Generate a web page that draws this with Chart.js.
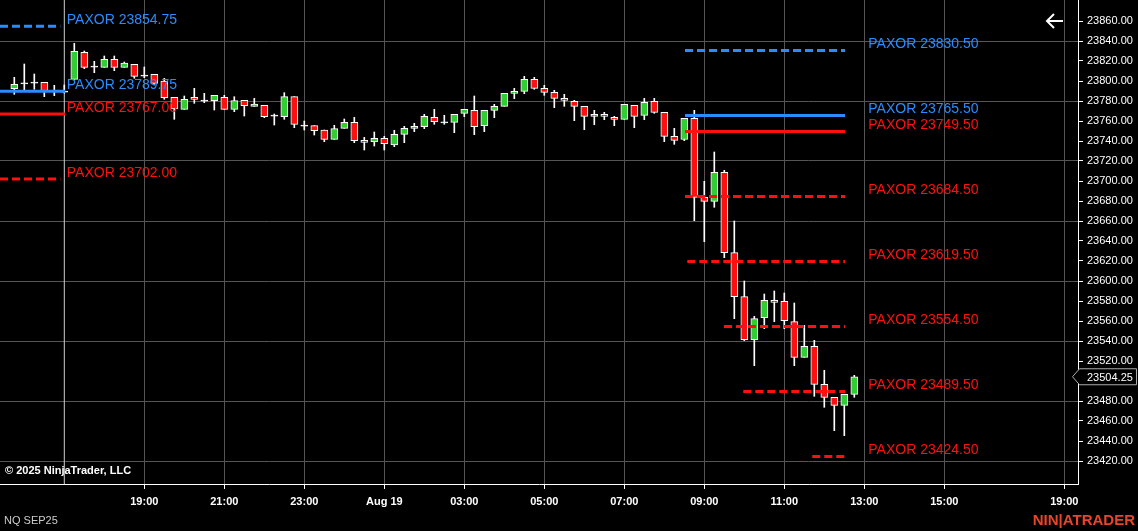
<!DOCTYPE html>
<html><head><meta charset="utf-8">
<script src="https://cdn.jsdelivr.net/npm/chart.js@4.4.0/dist/chart.umd.min.js"></script>
<style>html,body{margin:0;padding:0;background:#000;overflow:hidden}</style>
</head><body>
<canvas id="c" width="1138" height="531"></canvas>
<script>
// 15-minute bars, index k = 1..85
const barIndex = Array.from({length:85},(_,i)=>i+1);
const opens  = [23792.3,23797.7,23798.3,23798.7,23790,23789.3,23801.7,23828.7,23814.3,23813.7,23821.7,23813.7,23816.7,23805.3,23806.7,23800,23783.7,23771.7,23783.7,23780.3,23780.3,23783.7,23771.7,23780.7,23774.7,23775.7,23765.3,23764.3,23784.3,23755.3,23755.3,23751,23741.7,23752.7,23758.7,23740.7,23739.3,23742.7,23736,23746.7,23752.7,23754.3,23763.7,23758.7,23758.7,23767.7,23770.7,23755.3,23770.7,23774.7,23787.7,23789.7,23801.7,23792.7,23788.7,23782.7,23779.7,23774.7,23764.7,23766.7,23763.7,23761.7,23775.7,23765.7,23779.7,23768.7,23744.7,23741.5,23762.7,23683.7,23679.7,23708.7,23628.3,23584.3,23541.3,23563.3,23580.7,23579.7,23559.3,23523.7,23534.7,23496.7,23483.7,23475.7,23486.7];
const highs  = [23803.7,23817,23807,23798.7,23795.7,23796,23837.7,23830,23819.7,23825,23825,23819,23816.7,23814,23806.7,23802.7,23783.7,23785,23792.7,23787.7,23785.7,23785.7,23784.3,23780.7,23782.7,23775.7,23767,23788.3,23784.3,23760,23755.3,23751,23755.7,23762,23763.7,23743.7,23749,23744.7,23750.7,23754.7,23757.7,23766.7,23771.7,23765.7,23766.7,23771.7,23785,23770.7,23776.7,23787.7,23792.7,23804.7,23803.7,23795.7,23790.7,23786.7,23780.7,23774.7,23770.7,23768.7,23764.7,23776.7,23775.7,23782.7,23782.7,23768.7,23752.7,23762.7,23770.7,23699.7,23729,23710.7,23660,23600,23564.7,23587,23590,23588,23578,23555.7,23540.7,23510.7,23483.7,23486.7,23505.7];
const lows   = [23786.7,23789.3,23791.7,23784.3,23785.3,23788,23801.7,23812.3,23808.3,23813.7,23810.3,23813.7,23802.7,23803.3,23796,23781.7,23761.7,23771.7,23777.7,23778.3,23771,23771.7,23769.3,23765,23774.7,23763.3,23756,23761.7,23753.3,23751,23746,23739.3,23741.7,23752.7,23738.3,23731,23735,23731,23734.3,23738.3,23749.3,23752.3,23756.7,23756.7,23748.3,23764.3,23746.3,23749.3,23763.3,23774.7,23782.3,23787.3,23791.7,23785.7,23773.3,23774.7,23760.3,23751.3,23756.3,23761.3,23755.3,23761.7,23753.3,23761.3,23767.7,23739.3,23736.7,23740.3,23660.3,23639.3,23673.7,23623.3,23562.3,23540.3,23515.3,23552.3,23559.3,23552.3,23515.3,23523.7,23484.7,23473.7,23450.3,23445.3,23483.7];
const closes = [23796.7,23797.7,23798.3,23790,23790,23789.3,23829.7,23813.7,23814.3,23821.7,23813.7,23818,23804.7,23805.3,23797.7,23783.3,23772,23781.7,23781.7,23780.3,23785.7,23771.7,23780.3,23775.3,23777,23764.3,23765.3,23784.3,23756.7,23755.3,23750.3,23741.7,23752.3,23758.7,23740.3,23738.7,23742.7,23737.3,23746.7,23752.7,23754.7,23764.7,23759.3,23758.7,23766.7,23771.7,23754.3,23770.7,23774.7,23787.7,23789.7,23801.7,23792.7,23788.7,23782.7,23780.7,23774.7,23764.7,23766.7,23764.7,23761.7,23776.7,23764.7,23778.7,23768.7,23744.7,23740.7,23762.7,23683.7,23679.7,23708.7,23628.3,23584.3,23541.3,23562.3,23580.7,23578.7,23560.3,23523.7,23534.7,23496.7,23483.7,23475.7,23486.7,23504.25];
const lastPrice = 23504.25;
// PAXOR levels
const levelPrices = [23854.75,23789.75,23767.00,23702.00,23830.50,23765.50,23749.50,23684.50,23619.50,23554.50,23489.50,23424.50];
const levelStart  = [-0.43,-0.43,-0.43,-0.43,68.07,68.07,68.07,68.07,68.3,71.97,73.9,80.8];
const levelEnd    = [5.6,6.07,6.07,5.6,84.07,84.07,84.07,84.07,84.07,84.07,84.07,84.07];
const levelBlue   = [true,true,false,false,true,true,false,false,false,false,false,false];
const levelDashed = [true,false,false,true,true,false,false,true,true,true,true,true];
const levelLabelAt= [6.25,6.25,6.25,6.25,86.4,86.4,86.4,86.4,86.4,86.4,86.4,86.4];
const timeTickPos = [14,22,30,38,46,54,62,70,78,86,94,106];
const timeTickLab = ['19:00','21:00','23:00','Aug 19','03:00','05:00','07:00','09:00','11:00','13:00','15:00','19:00'];
const sessionBreak = 6;

const BLUE='#2a8cff', RED='#ff1010', GREEN='#32cd32';
const bodies = barIndex.map((k,i)=>{
  const o=opens[i], c=closes[i];
  return o===c ? {x:k,y:[o-0.5,o+0.5]} : {x:k,y:[Math.min(o,c),Math.max(o,c)]};
});
const bodyColors = barIndex.map((k,i)=> opens[i]===closes[i] ? '#fff' : (closes[i]>opens[i]?GREEN:RED));
const wicks = barIndex.map((k,i)=>({x:k,y:[lows[i],highs[i]]}));

const datasets = [
  {type:'bar',data:wicks,backgroundColor:'#fff',barThickness:1,grouped:false,order:3,borderWidth:0},
  {type:'bar',data:bodies,backgroundColor:bodyColors,borderColor:'#fff',borderWidth:1,borderSkipped:false,barThickness:7,grouped:false,order:2},
  {type:'line',data:[{x:sessionBreak,y:23397},{x:sessionBreak,y:23881}],borderColor:'#cfcfcf',borderWidth:1,pointRadius:0,order:4}
];
levelPrices.forEach((p,i)=>{
  datasets.push({type:'line',data:[{x:levelStart[i],y:p},{x:levelEnd[i],y:p}],
    borderColor:levelBlue[i]?BLUE:RED,borderWidth:3,borderDash:levelDashed[i]?[8,4]:[],
    pointRadius:0,order:0});
});

const overlay = {
  id:'overlay',
  afterDraw(chart){
    const ctx=chart.ctx, xs=chart.scales.x, ys=chart.scales.y;
    ctx.save();
    ctx.font='14px "Liberation Sans", Arial, sans-serif';
    ctx.textBaseline='middle';ctx.textAlign='left';
    levelPrices.forEach((p,i)=>{
      ctx.fillStyle=levelBlue[i]?BLUE:RED;
      ctx.fillText('PAXOR '+p.toFixed(2), xs.getPixelForValue(levelLabelAt[i]), ys.getPixelForValue(p)-6);
    });
    ctx.fillStyle='#fff';ctx.font='bold 11px "Liberation Sans", Arial, sans-serif';
    ctx.fillText('© 2025 NinjaTrader, LLC',5,471);
    ctx.font='11px "Liberation Sans", Arial, sans-serif';ctx.fillStyle='#ccc';
    ctx.fillText('NQ SEP25',4,521);
    ctx.font='bold 15px "Liberation Sans", Arial, sans-serif';ctx.fillStyle='#e8452c';
    ctx.textAlign='right';ctx.fillText('NIN|ATRADER',1135,521);
    ctx.strokeStyle='#fff';ctx.lineWidth=2;
    ctx.beginPath();ctx.moveTo(1063,21);ctx.lineTo(1047,21);ctx.moveTo(1054,14);ctx.lineTo(1047,21);ctx.lineTo(1054,28);ctx.stroke();
    const py=ys.getPixelForValue(lastPrice);
    ctx.fillStyle='#000';ctx.strokeStyle='#aaa';ctx.lineWidth=1;
    ctx.beginPath();ctx.moveTo(1072.5,py);ctx.lineTo(1079.5,py-8);ctx.lineTo(1136.5,py-8);ctx.lineTo(1136.5,py+8);ctx.lineTo(1079.5,py+8);ctx.closePath();ctx.fill();ctx.stroke();
    ctx.fillStyle='#fff';ctx.font='11px "Liberation Sans", Arial, sans-serif';ctx.textAlign='left';
    ctx.fillText(lastPrice.toFixed(2),1087,py+1);
    ctx.restore();
  }
};

new Chart(document.getElementById('c'),{
  data:{datasets},
  options:{
    responsive:false,animation:false,devicePixelRatio:1,
    layout:{padding:0},
    plugins:{legend:{display:false},tooltip:{enabled:false}},
    scales:{
      x:{type:'linear',min:-0.43,max:107.37,offset:false,
        afterBuildTicks:s=>{s.ticks=timeTickPos.map(v=>({value:v}));},
        afterFit:s=>{s.height=47;s.paddingLeft=0;s.paddingRight=0;},
        ticks:{autoSkip:false,maxRotation:0,color:'#fff',font:{size:11,weight:'bold',family:'"Liberation Sans", Arial'},padding:6,
          callback:(v)=>{const i=timeTickPos.indexOf(v);return i>=0?timeTickLab[i]:'';}},
        grid:{color:'#555',tickColor:'#fff',tickLength:5,offset:false},
        border:{color:'#fff',width:1}},
      y:{type:'linear',position:'right',min:23397,max:23881,
        afterBuildTicks:s=>{const t=[];for(let v=23420;v<=23860;v+=20)t.push({value:v});s.ticks=t;},
        afterFit:s=>{s.width=60;s.paddingTop=0;s.paddingBottom=0;},
        ticks:{color:'#fff',font:{size:11,family:'"Liberation Sans", Arial'},padding:4,callback:v=>v.toFixed(2)},
        grid:{color:c=>((c.tick&&((c.tick.value-23420)%60===0))?'#555':'rgba(0,0,0,0)'),tickColor:'#fff',tickLength:5},
        border:{color:'#fff',width:1}}
    }
  },
  plugins:[overlay]
});
</script></body></html>
